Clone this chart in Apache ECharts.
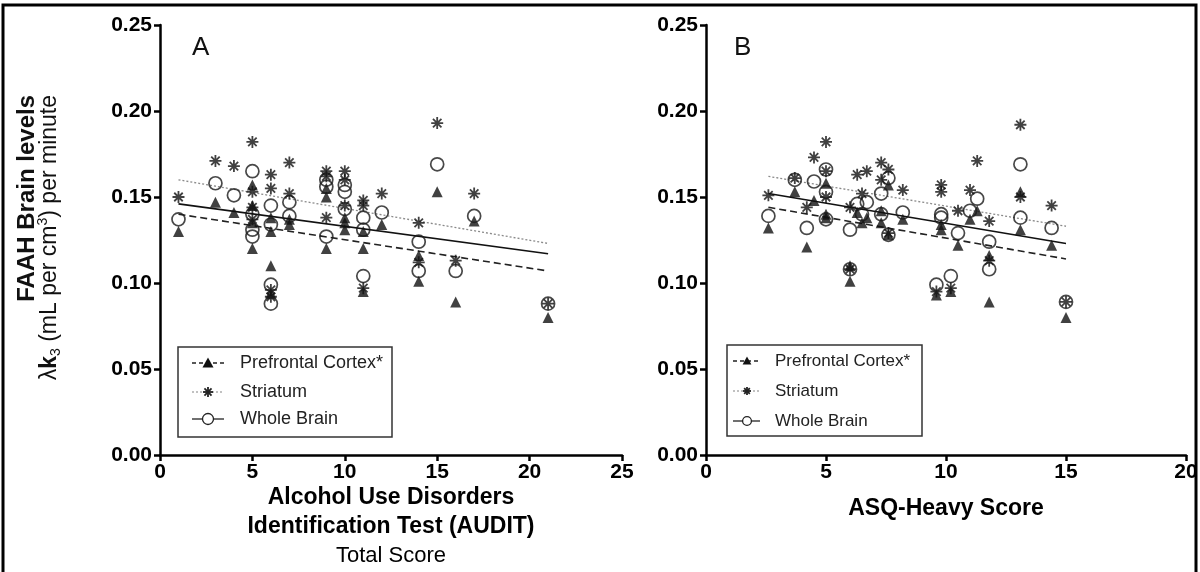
<!DOCTYPE html>
<html>
<head>
<meta charset="utf-8">
<script src="https://cdn.jsdelivr.net/npm/echarts@6.0.0/dist/echarts.min.js"></script>
<style>html,body{margin:0;padding:0;background:#fff}#c{width:1200px;height:572px}</style>
</head>
<body>
<div id="c"></div>
<script>
// ---------- Panel A: AUDIT total score ----------
const xA   = [1, 3, 4, 5, 5, 5, 5, 6, 6, 6, 6, 7, 7, 9, 9, 9, 10, 10, 10, 11, 11, 11, 12, 14, 14, 15, 16, 17, 21];
const pfcA = [0.130,0.147,0.141,0.157,0.145,0.135,0.120,0.138,0.130,0.110,0.094,0.134,0.137,0.155,0.150,0.120,0.138,0.131,0.135,0.130,0.120,0.095,0.134,0.116,0.101,0.153,0.089,0.136,0.080];
const strA = [0.150,0.171,0.168,0.182,0.153,0.144,0.137,0.163,0.155,0.096,0.092,0.170,0.152,0.165,0.162,0.138,0.165,0.160,0.145,0.148,0.145,0.097,0.152,0.135,0.112,0.193,0.113,0.152,0.088];
const wbA  = [0.137,0.158,0.151,0.165,0.140,0.131,0.127,0.145,0.134,0.099,0.088,0.147,0.139,0.160,0.156,0.127,0.157,0.153,0.143,0.138,0.131,0.104,0.141,0.124,0.107,0.169,0.107,0.139,0.088];
const fitPfcA = [[1, 0.140], [21, 0.107]];
const fitStrA = [[1, 0.160], [21, 0.123]];
const fitWbA  = [[1, 0.146], [21, 0.117]];

// ---------- Panel B: ASQ-Heavy score ----------
const xB   = [2.6, 3.7, 4.2, 4.5, 5.0, 5.0, 5.0, 6.0, 6.0, 6.3, 6.7, 6.5, 7.3, 7.6, 7.3, 7.6, 8.2, 9.8, 9.8, 9.6, 10.2, 10.5, 11.0, 11.3, 11.8, 11.8, 13.1, 13.1, 14.4, 15.0];
const pfcB = [0.132,0.153,0.121,0.148,0.158,0.140,0.138,0.110,0.101,0.141,0.138,0.135,0.142,0.157,0.135,0.128,0.137,0.134,0.131,0.093,0.095,0.122,0.137,0.142,0.116,0.089,0.153,0.131,0.122,0.080];
const strB = [0.151,0.161,0.144,0.173,0.182,0.165,0.150,0.144,0.108,0.163,0.165,0.152,0.170,0.166,0.160,0.129,0.154,0.157,0.153,0.095,0.097,0.142,0.154,0.171,0.136,0.113,0.192,0.150,0.145,0.089];
const wbB  = [0.139,0.160,0.132,0.159,0.166,0.153,0.137,0.131,0.108,0.146,0.147,0.140,0.152,0.161,0.140,0.128,0.141,0.140,0.138,0.099,0.104,0.129,0.142,0.149,0.124,0.108,0.169,0.138,0.132,0.089];
const fitPfcB = [[2.6, 0.144], [15, 0.114]];
const fitStrB = [[2.6, 0.162], [15, 0.133]];
const fitWbB  = [[2.6, 0.152], [15, 0.123]];

// ---------- Labels ----------
const seriesNames = ['Prefrontal Cortex*', 'Striatum', 'Whole Brain'];
const yTickLabels = ['0.00', '0.05', '0.10', '0.15', '0.20', '0.25'];
const xTickLabelsA = ['0', '5', '10', '15', '20', '25'];
const xTickLabelsB = ['0', '5', '10', '15', '20'];
const panelLetters = ['A', 'B'];

const FONT = "'Liberation Sans', Arial, Helvetica, sans-serif";
const ASTER = 'path://M8.5 0L11.5 0L11.5 20L8.5 20Z M0 8.5L20 8.5L20 11.5L0 11.5Z M3.99 1.87L18.13 16.01L16.01 18.13L1.87 3.99Z M16.01 1.87L18.13 3.99L3.99 18.13L1.87 16.01Z';

function pairs(xs, ys) { return xs.map((x, i) => [x, ys[i]]); }

function xAxisCfg(grid, max, labels, name, gap, rich) {
  return {
    type: 'value', gridIndex: grid, min: 0, max: max, interval: 5,
    axisLine: { show: true, onZero: false, lineStyle: { color: '#000', width: 2.5 } },
    axisTick: { show: true, length: 6, lineStyle: { color: '#000', width: 2.5 } },
    axisLabel: { color: '#000', fontSize: 21, fontWeight: 'bold', fontFamily: FONT, margin: 7,
      formatter: v => labels[Math.round(v / 5)] },
    splitLine: { show: false },
    name: name, nameLocation: 'middle', nameGap: gap, nameMoveOverlap: false,
    nameTextStyle: { color: '#000', fontFamily: FONT, rich: rich }
  };
}
function yAxisCfg(grid) {
  return {
    type: 'value', gridIndex: grid, min: 0, max: 0.25, interval: 0.05,
    axisLine: { show: true, onZero: false, lineStyle: { color: '#000', width: 2.5 } },
    axisTick: { show: true, length: 6, lineStyle: { color: '#000', width: 2.5 } },
    axisLabel: { color: '#000', fontSize: 21, fontWeight: 'bold', fontFamily: FONT, margin: 8,
      formatter: v => yTickLabels[Math.round(v / 0.05)] },
    splitLine: { show: false }
  };
}

const richA = {
  b: { fontSize: 23, fontWeight: 'bold', lineHeight: 29, fontFamily: FONT, color: '#000' },
  n: { fontSize: 22, lineHeight: 29, fontFamily: FONT, color: '#000' }
};

function panelSeries(idx, xs, pfc, str, wb, fp, fs, fw) {
  return [
    { type: 'line', xAxisIndex: idx, yAxisIndex: idx, data: fp, symbol: 'none', silent: true, z: 2,
      lineStyle: { color: '#222', width: 1.6, type: [7, 4] } },
    { type: 'line', xAxisIndex: idx, yAxisIndex: idx, data: fs, symbol: 'none', silent: true, z: 2,
      lineStyle: { color: '#8a8a8a', width: 1.3, type: [2, 2] } },
    { type: 'line', xAxisIndex: idx, yAxisIndex: idx, data: fw, symbol: 'none', silent: true, z: 2,
      lineStyle: { color: '#111', width: 1.6 } },
    { name: seriesNames[0], type: 'scatter', xAxisIndex: idx, yAxisIndex: idx, data: pairs(xs, pfc),
      symbol: 'triangle', symbolSize: 11, itemStyle: { color: '#111' }, silent: true, z: 3 },
    { name: seriesNames[1], type: 'scatter', xAxisIndex: idx, yAxisIndex: idx, data: pairs(xs, str),
      symbol: ASTER, symbolSize: 12, itemStyle: { color: '#111' }, silent: true, z: 4 },
    { name: seriesNames[2], type: 'scatter', xAxisIndex: idx, yAxisIndex: idx, data: pairs(xs, wb),
      symbol: 'circle', symbolSize: 13,
      itemStyle: { color: 'rgba(0,0,0,0)', borderColor: '#1a1a1a', borderWidth: 1.7 }, silent: true, z: 5 }
  ];
}

function legendGroup(bx, by, bw, bh, rows, lx1, lx2, mx, tx, fontSize, ms) {
  const els = [];
  els.push({ type: 'rect', shape: { x: bx, y: by, width: bw, height: bh },
    style: { fill: 'none', stroke: '#333', lineWidth: 1.5 } });
  // PFC
  els.push({ type: 'line', shape: { x1: lx1, y1: rows[0], x2: lx2, y2: rows[0] },
    style: { stroke: '#222', lineWidth: 1.3, lineDash: [4, 3] } });
  els.push({ type: 'polygon', shape: { points: [[mx, rows[0] - ms * 0.55], [mx + ms * 0.55, rows[0] + ms * 0.45], [mx - ms * 0.55, rows[0] + ms * 0.45]] },
    style: { fill: '#111' } });
  // Striatum
  els.push({ type: 'line', shape: { x1: lx1, y1: rows[1], x2: lx2, y2: rows[1] },
    style: { stroke: '#999', lineWidth: 1.2, lineDash: [2, 2] } });
  const h = ms / 2, d = ms * 0.354;
  [[-h, 0, h, 0], [0, -h, 0, h], [-d, -d, d, d], [-d, d, d, -d]].forEach(s => {
    els.push({ type: 'line', shape: { x1: mx + s[0], y1: rows[1] + s[1], x2: mx + s[2], y2: rows[1] + s[3] },
      style: { stroke: '#222', lineWidth: 1.8 } });
  });
  // Whole brain
  els.push({ type: 'line', shape: { x1: lx1, y1: rows[2], x2: lx2, y2: rows[2] },
    style: { stroke: '#222', lineWidth: 1.3 } });
  els.push({ type: 'circle', shape: { cx: mx, cy: rows[2], r: ms * 0.55 },
    style: { fill: '#fff', stroke: '#222', lineWidth: 1.3 } });
  seriesNames.forEach((n, i) => {
    els.push({ type: 'text', x: tx, y: rows[i],
      style: { text: n, fontSize: fontSize, fontFamily: FONT, fill: '#222', align: 'left', verticalAlign: 'middle' } });
  });
  return els;
}

const chart = echarts.init(document.getElementById('c'), null, { renderer: 'canvas' });
chart.setOption({
  animation: false,
  backgroundColor: '#fff',
  grid: [
    { left: 160, right: 578, top: 25, bottom: 117, containLabel: false, outerBoundsMode: 'none' },
    { left: 706, right: 14, top: 25, bottom: 117, containLabel: false, outerBoundsMode: 'none' }
  ],
  xAxis: [
    xAxisCfg(0, 25, xTickLabelsA, '{b|Alcohol Use Disorders}\n{b|Identification Test (AUDIT)}\n{n|Total Score}', 28, richA),
    xAxisCfg(1, 20, xTickLabelsB, '{b|ASQ-Heavy Score}', 39, richA)
  ],
  yAxis: [yAxisCfg(0), yAxisCfg(1)],
  series: [].concat(
    panelSeries(0, xA, pfcA, strA, wbA, fitPfcA, fitStrA, fitWbA),
    panelSeries(1, xB, pfcB, strB, wbB, fitPfcB, fitStrB, fitWbB)
  ),
  graphic: [].concat(
    [
      { type: 'rect', shape: { x: 3, y: 5, width: 1193, height: 590 },
        style: { fill: 'none', stroke: '#000', lineWidth: 3 }, z: 100 },
      { type: 'text', x: 27, y: 95, rotation: Math.PI / 2,
        style: { text: 'FAAH Brain levels', fontSize: 24, fontWeight: 'bold', fontFamily: FONT, fill: '#111', align: 'right', verticalAlign: 'middle' } },
      { type: 'text', x: 50, y: 95, rotation: Math.PI / 2,
        style: { text: 'λ{k|k}{s|3} (mL per cm{p|3}) per minute', fontSize: 23, fontFamily: FONT, fill: '#111', align: 'right', verticalAlign: 'middle',
          rich: {
            k: { fontSize: 23, fontWeight: 'bold', fontFamily: FONT, fill: '#111', lineHeight: 27 },
            s: { fontSize: 14, fontFamily: FONT, fill: '#111', verticalAlign: 'bottom', lineHeight: 27 },
            p: { fontSize: 14, fontFamily: FONT, fill: '#111', verticalAlign: 'top', lineHeight: 27 }
          } } },
      { type: 'text', x: 192, y: 48, style: { text: panelLetters[0], fontSize: 26, fontFamily: FONT, fill: '#111', align: 'left', verticalAlign: 'middle' } },
      { type: 'text', x: 734, y: 48, style: { text: panelLetters[1], fontSize: 26, fontFamily: FONT, fill: '#111', align: 'left', verticalAlign: 'middle' } }
    ],
    legendGroup(178, 347, 214, 90, [363, 392, 419], 192, 224, 208, 240, 18, 10),
    legendGroup(727, 345, 195, 91, [361, 391, 421], 733, 760, 747, 775, 17, 8)
  )
});
</script>
</body>
</html>
